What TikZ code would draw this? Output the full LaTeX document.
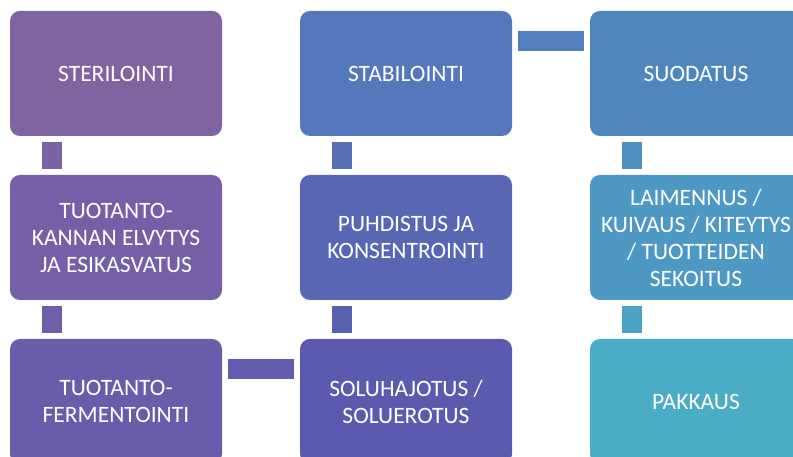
\documentclass[tikz,border=0pt]{standalone}
\usepackage{fontspec}
\setmainfont{Carlito}
\definecolor{c1}{HTML}{8064A2}
\definecolor{c2}{HTML}{7560A8}
\definecolor{c3}{HTML}{695CAB}
\definecolor{c4}{HTML}{5B5AAE}
\definecolor{c5}{HTML}{5866B4}
\definecolor{c6}{HTML}{5577BC}
\definecolor{c7}{HTML}{4F86BE}
\definecolor{c8}{HTML}{4E98C4}
\definecolor{c9}{HTML}{4BACC6}
\definecolor{k12}{HTML}{7A62A5}
\definecolor{k23}{HTML}{6F5EA9}
\definecolor{k34}{HTML}{635BAD}
\definecolor{k45}{HTML}{5960B1}
\definecolor{k56}{HTML}{5770B8}
\definecolor{k67}{HTML}{527FBE}
\definecolor{k78}{HTML}{4F90C1}
\definecolor{k89}{HTML}{4DA3C5}
\tikzset{
  stepbox/.style={fill=#1, draw=none, rounded corners=10pt, minimum width=212pt, minimum height=125pt,
    inner sep=0pt, text=white, align=center, font=\fontsize{23.5}{27}\selectfont},
  conn/.style={draw=#1, line width=20pt, line cap=butt}
}
\begin{document}
\begin{tikzpicture}[x=1pt,y=1pt]
\useasboundingbox (0,0) rectangle (793,457);
\clip (0,0) rectangle (793,457);
\node[stepbox=c1] (n1) at (116,383.5) {STERILOINTI};
\node[stepbox=c2] (n2) at (116,219.5) {TUOTANTO-\\KANNAN ELVYTYS\\JA ESIKASVATUS};
\node[stepbox=c3] (n3) at (116,55.5) {TUOTANTO-\\FERMENTOINTI};
\node[stepbox=c4] (n4) at (406,55.5) {SOLUHAJOTUS /\\SOLUEROTUS};
\node[stepbox=c5] (n5) at (406,219.5) {PUHDISTUS JA\\KONSENTROINTI};
\node[stepbox=c6] (n6) at (406,383.5) {STABILOINTI};
\node[stepbox=c7] (n7) at (696,383.5) {SUODATUS};
\node[stepbox=c8] (n8) at (696,219.5) {LAIMENNUS /\\KUIVAUS / KITEYTYS\\/ TUOTTEIDEN\\SEKOITUS};
\node[stepbox=c9] (n9) at (696,55.5) {PAKKAUS};
\draw[conn=k12] ([shift={(42,-6)}]n1.south west) -- ([shift={(42,6)}]n2.north west);
\draw[conn=k23] ([shift={(42,-6)}]n2.south west) -- ([shift={(42,6)}]n3.north west);
\draw[conn=k34] ([shift={(6,-30)}]n3.north east) -- ([shift={(-6,-30)}]n4.north west);
\draw[conn=k45] ([shift={(42,6)}]n4.north west) -- ([shift={(42,-6)}]n5.south west);
\draw[conn=k56] ([shift={(42,6)}]n5.north west) -- ([shift={(42,-6)}]n6.south west);
\draw[conn=k67] ([shift={(6,-30)}]n6.north east) -- ([shift={(-6,-30)}]n7.north west);
\draw[conn=k78] ([shift={(42,-6)}]n7.south west) -- ([shift={(42,6)}]n8.north west);
\draw[conn=k89] ([shift={(42,-6)}]n8.south west) -- ([shift={(42,6)}]n9.north west);
\end{tikzpicture}
\end{document}
